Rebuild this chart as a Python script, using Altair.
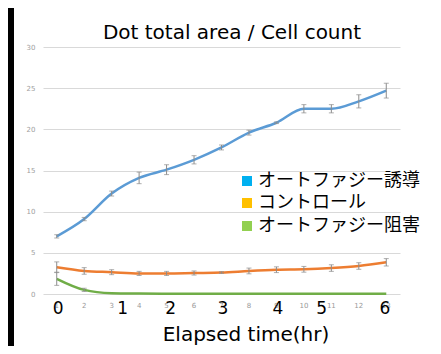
import altair as alt
import pandas as pd

categories = list(range(1, 14))
induction = [7.0, 9.1, 12.2, 14.1, 15.1, 16.3, 17.8, 19.6, 20.8, 22.5, 22.5, 23.4, 24.7]
induction_err = [0.2, 0.2, 0.3, 0.7, 0.6, 0.5, 0.3, 0.3, 0.1, 0.5, 0.5, 0.8, 0.9]
control = [3.25, 2.8, 2.65, 2.5, 2.5, 2.55, 2.6, 2.8, 2.95, 3.0, 3.15, 3.4, 3.85]
control_err = [0.65, 0.4, 0.3, 0.25, 0.25, 0.25, 0.1, 0.35, 0.35, 0.35, 0.4, 0.4, 0.45]
inhibition = [1.85, 0.5, 0.1, 0.05, 0.03, 0.02, 0.02, 0.02, 0.02, 0.02, 0.02, 0.02, 0.02]
inhibition_err = [0.8, 0.2, 0, 0, 0, 0, 0, 0, 0, 0, 0, 0, 0]

series_names = ["induction", "control", "inhibition"]
line_colors = ["#5B9BD5", "#ED7D31", "#70AD47"]
legend_labels = ["オートファジー誘導", "コントロール", "オートファジー阻害"]
legend_colors = ["#00B0F0", "#FFC000", "#92D050"]

hour_labels = ["0", "1", "2", "3", "4", "5", "6"]
hour_label_pos = [1.05, 3.4, 5.15, 7.05, 9.05, 10.65, 12.95]

rows = []
for name, vals, errs in [("induction", induction, induction_err),
                         ("control", control, control_err),
                         ("inhibition", inhibition, inhibition_err)]:
    for c, v, e in zip(categories, vals, errs):
        rows.append({"cat": c, "series": name, "value": v,
                     "lo": v - e, "hi": v + e, "err": e})
df = pd.DataFrame(rows)
err_df = df[df["err"] > 0]

xscale = alt.Scale(domain=[0.5, 13.5], nice=False, zero=False)
yscale = alt.Scale(domain=[0, 30], nice=False)

x_axis = alt.Axis(grid=False, domain=False, ticks=False, labels=False, title=None)
y_axis = alt.Axis(values=[0, 5, 10, 15, 20, 25, 30], grid=True, gridColor="#D9D9D9",
                  domain=False, ticks=False, labelFontSize=7, labelColor="#A0A0A0",
                  labelPadding=8, labelFont="DejaVu Sans", labelOverlap=False, title=None)

base = alt.Chart(df)

lines = base.mark_line(strokeWidth=2.5, interpolate="monotone").encode(
    x=alt.X("cat:Q", scale=xscale, axis=x_axis),
    y=alt.Y("value:Q", scale=yscale, axis=y_axis),
    color=alt.Color("series:N", scale=alt.Scale(domain=series_names, range=line_colors), legend=None),
    order=alt.Order("cat:Q"),
)

err_base = alt.Chart(err_df)
err_rules = err_base.mark_rule(color="#8C8C8C", strokeWidth=1).encode(
    x=alt.X("cat:Q", scale=xscale),
    y=alt.Y("lo:Q", scale=yscale),
    y2="hi:Q",
)
err_top = err_base.mark_tick(color="#8C8C8C", orient="horizontal", size=5, thickness=1).encode(
    x=alt.X("cat:Q", scale=xscale),
    y=alt.Y("hi:Q", scale=yscale),
)
err_bot = err_base.mark_tick(color="#8C8C8C", orient="horizontal", size=5, thickness=1).encode(
    x=alt.X("cat:Q", scale=xscale),
    y=alt.Y("lo:Q", scale=yscale),
)

cat_df = pd.DataFrame({"cat": categories, "label": [str(c) for c in categories]})
cat_labels = alt.Chart(cat_df).mark_text(fontSize=7, font="DejaVu Sans", color="#999999",
                                         baseline="middle", align="center").encode(
    x=alt.X("cat:Q", scale=xscale),
    y=alt.value(259),
    text="label:N",
)

hours_df = pd.DataFrame({"label": hour_labels, "pos": hour_label_pos})
hours = alt.Chart(hours_df).mark_text(fontSize=17, font="DejaVu Sans", color="black",
                                      baseline="alphabetic", align="center").encode(
    x=alt.X("pos:Q", scale=xscale),
    y=alt.value(267),
    text="label:N",
)

title = alt.Chart(pd.DataFrame({"t": ["Dot total area / Cell count"]})).mark_text(
    fontSize=20, font="DejaVu Sans", color="black", baseline="alphabetic", align="center"
).encode(x=alt.value(189), y=alt.value(-8), text="t:N")

xtitle = alt.Chart(pd.DataFrame({"t": ["Elapsed time(hr)"]})).mark_text(
    fontSize=20, font="DejaVu Sans", color="black", baseline="alphabetic", align="center"
).encode(x=alt.value(203), y=alt.value(294), text="t:N")

strip = alt.Chart(pd.DataFrame({"a": [0]})).mark_rect(color="black").encode(
    x=alt.value(-35), x2=alt.value(-29), y=alt.value(-39), y2=alt.value(299)
)

legend_layers = []
legend_y = [134, 156, 179]
for lab, col, yy in zip(legend_labels, legend_colors, legend_y):
    d = pd.DataFrame({"t": [lab]})
    legend_layers.append(
        alt.Chart(d).mark_square(color=col, size=100, opacity=1, filled=True).encode(
            x=alt.value(204), y=alt.value(yy))
    )
    legend_layers.append(
        alt.Chart(d).mark_text(fontSize=18, font="Noto Sans CJK JP", color="black",
                               align="left", baseline="middle").encode(
            x=alt.value(215), y=alt.value(yy), text="t:N")
    )

chart = alt.layer(
    strip, lines, err_rules, err_top, err_bot, cat_labels, hours, title, xtitle, *legend_layers
).properties(
    width=357, height=247,
    padding={"left": 35, "top": 39, "right": 33, "bottom": 52},
    autosize=alt.AutoSizeParams(type="none"),
    background="white",
).configure_view(stroke=None)

chart.save("out.html", embed_options={"renderer": "svg", "actions": False})
